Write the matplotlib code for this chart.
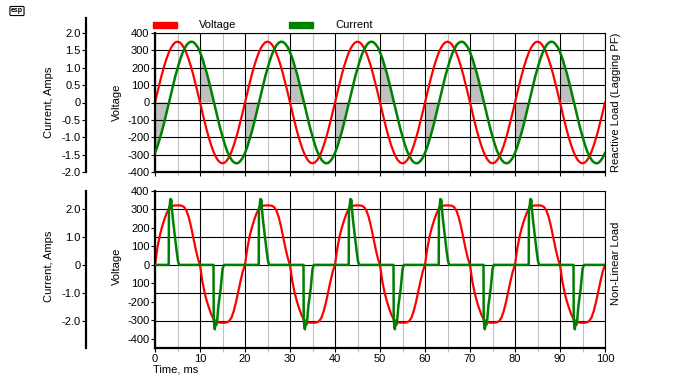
import numpy as np
import matplotlib as mpl
mpl.use('Agg')
import matplotlib.pyplot as plt
from matplotlib.patches import Rectangle
from matplotlib.transforms import blended_transform_factory

plt.rcParams.update({'font.family': ['Liberation Sans', 'DejaVu Sans'],
                     'font.size': 8, 'axes.unicode_minus': False})

# one 20 ms mains cycle, sampled every 0.5 ms, repeated 5 times
step_ms = 0.5
n_cycles = 5
period_ms = 20

# reactive load (lagging PF)
ac_volts = [0, 55, 108, 159, 206, 247, 283, 312, 333, 346,
            350, 346, 333, 312, 283, 247, 206, 159, 108, 55,
            0, -55, -108, -159, -206, -247, -283, -312, -333, -346,
            -350, -346, -333, -312, -283, -247, -206, -159, -108, -55]
ac_amps = [-1.45, -1.28, -1.07, -0.85, -0.60, -0.33, -0.05, 0.22, 0.49, 0.75,
           0.98, 1.20, 1.39, 1.53, 1.65, 1.72, 1.75, 1.74, 1.68, 1.59,
           1.45, 1.28, 1.07, 0.85, 0.60, 0.33, 0.05, -0.22, -0.49, -0.75,
           -0.98, -1.20, -1.39, -1.53, -1.65, -1.72, -1.75, -1.74, -1.68, -1.59]

# non-linear load: flat-topped voltage and rectifier current pulses
nl_volts = [0, 88, 152, 200, 240, 275, 300, 314, 320, 322,
            322, 322, 320, 312, 293, 258, 208, 148, 90, 38,
            0, -86, -148, -195, -234, -268, -292, -305, -311, -313,
            -313, -313, -311, -304, -285, -250, -202, -144, -88, -36]
pulse_t = [0, 3.05, 3.1, 3.3, 3.4, 3.5, 3.6, 3.7, 4.0, 4.4, 4.8, 5.1, 5.35,
           13.0, 13.05, 13.2, 13.3, 13.45, 13.6, 13.8, 14.1, 14.6, 15.0, 15.3, 20]
pulse_a = [0, 0, 2.0, 2.15, 2.35, 2.15, 2.33, 2.1, 1.6, 1.05, 0.5, 0.15, 0,
           0, -1.95, -2.2, -2.3, -2.05, -2.15, -2.0, -1.45, -0.85, -0.15, 0, 0]

top_amp_ticks = [2.0, 1.5, 1.0, 0.5, 0, -0.5, -1.0, -1.5, -2.0]
top_amp_labels = ['2.0', '1.5', '1.0', '0.5', '0', '-0.5', '-1.0', '-1.5', '-2.0']
bot_amp_ticks = [2.0, 1.0, 0, -1.0, -2.0]
bot_amp_labels = ['2.0', '1.0', '0', '-1.0', '-2.0']
volt_ticks = [400, 300, 200, 100, 0, -100, -200, -300, -400]
top_volt_labels = ['400', '300', '200', '100', '0', '-100', '-200', '-300', '-400']
bot_volt_labels = ['400', '300', '200', '100', '0', '100', '-200', '-300', '-400']
time_ticks = list(range(0, 101, 10))

RED = '#FF0000'
GREEN = '#008000'
GRAY = '#C0C0C0'

t = np.arange(0, n_cycles * period_ms + step_ms / 2, step_ms)
v_top = np.array(ac_volts * n_cycles + ac_volts[:1])
i_top = np.array(ac_amps * n_cycles + ac_amps[:1])
v_bot = np.array(nl_volts * n_cycles + nl_volts[:1])
t_pulse = np.concatenate([np.array(pulse_t) + k * period_ms for k in range(n_cycles)])
i_pulse = np.tile(pulse_a, n_cycles)

W, H = 700, 390
fig = plt.figure(figsize=(W / 100, H / 100), dpi=100)


def fx(px):
    return px / W


def fy(py):
    return 1 - py / H


def style_axes(ax, ylim, ctick, clabels, clim):
    ax.set_xlim(0, 100)
    ax.set_ylim(*ylim)
    ax.set_xticks(time_ticks)
    ax.set_xticks(range(5, 100, 10), minor=True)
    ax.set_yticks(volt_ticks)
    ax.set_axisbelow(True)
    ax.grid(axis='x', which='major', color='black', lw=0.8)
    ax.grid(axis='x', which='minor', color=GRAY, lw=0.8)
    ax.tick_params(axis='both', which='major', direction='out', length=3,
                   width=0.8, pad=1, labelsize=8)
    ax.tick_params(axis='x', which='minor', direction='out', length=3,
                   width=0.8, color=GRAY)
    for s in ['left', 'bottom']:
        ax.spines[s].set_linewidth(1.6)
    for s in ['top', 'right']:
        ax.spines[s].set_linewidth(0.8)

    axc = ax.twinx()
    axc.set_ylim(*clim)
    axc.spines['left'].set_position(('outward', 69 * 0.72))
    axc.spines['left'].set_linewidth(1.6)
    for s in ['right', 'top', 'bottom']:
        axc.spines[s].set_visible(False)
    axc.yaxis.set_ticks_position('left')
    axc.set_yticks(ctick, clabels)
    axc.tick_params(direction='out', length=3, width=0.8, pad=1, labelsize=8)
    return axc


# ---- top: reactive load
ax1 = fig.add_axes([fx(155), fy(172), fx(450), fy(33) - fy(172)])
ax1c = style_axes(ax1, (-400, 400), top_amp_ticks, top_amp_labels, (-2.0, 2.0))
ax1c.spines['left'].set_bounds(-2.0, 2.43)
ax1.set_yticks(volt_ticks, top_volt_labels)
ax1.grid(axis='y', color='black', lw=0.8)
ax1.tick_params(axis='x', labelbottom=False)
ax1.fill_between(t, 0, i_top, where=(v_top * i_top <= 0), interpolate=True,
                 color=GRAY, lw=0, zorder=0.3, transform=ax1c.transData)
ax1.plot(t, v_top, color=RED, lw=1.6, zorder=2)
ax1.plot(t, i_top, color=GREEN, lw=1.8, zorder=3, transform=ax1c.transData)

# ---- bottom: non-linear load
ax2 = fig.add_axes([fx(155), fy(348), fx(450), fy(191) - fy(348)])
ax2c = style_axes(ax2, (-450, 400), bot_amp_ticks, bot_amp_labels, (-2.97, 2.64))
ax2.set_yticks(volt_ticks, bot_volt_labels)
ax2.hlines(bot_amp_ticks, 0, 1, color='black', lw=0.8, zorder=0.6,
           transform=blended_transform_factory(ax2.transAxes, ax2c.transData))
ax2.plot(t, v_bot, color=RED, lw=1.6, zorder=2)
ax2.plot(t_pulse, i_pulse, color=GREEN, lw=1.8, zorder=3, transform=ax2c.transData)

# ---- labels
for yc in (102, 266):
    fig.text(fx(49), fy(yc), 'Current, Amps', rotation=90, ha='center', va='center')
    fig.text(fx(117), fy(yc), 'Voltage', rotation=90, ha='center', va='center')
fig.text(fx(616), fy(102), 'Reactive Load (Lagging PF)', rotation=90, ha='center', va='center')
fig.text(fx(616), fy(263), 'Non-Linear Load', rotation=90, ha='center', va='center')
fig.text(fx(153), fy(370), 'Time, ms', ha='left', va='center')

# legend
for x0, col, lab in [(153, RED, 'Voltage'), (289, GREEN, 'Current')]:
    fig.patches.append(Rectangle((fx(x0), fy(28)), fx(24), fy(22) - fy(28),
                                 transform=fig.transFigure, color=col))
    fig.text(fx(x0 + 46), fy(25), lab, ha='left', va='center')

# esp logo
fig.text(fx(17), fy(11), 'esp', fontsize=5, ha='center', va='center', fontweight='bold',
         bbox=dict(boxstyle='round,pad=0.15', fc='white', ec='black', lw=0.8))

fig.savefig('out.png', dpi=100)
